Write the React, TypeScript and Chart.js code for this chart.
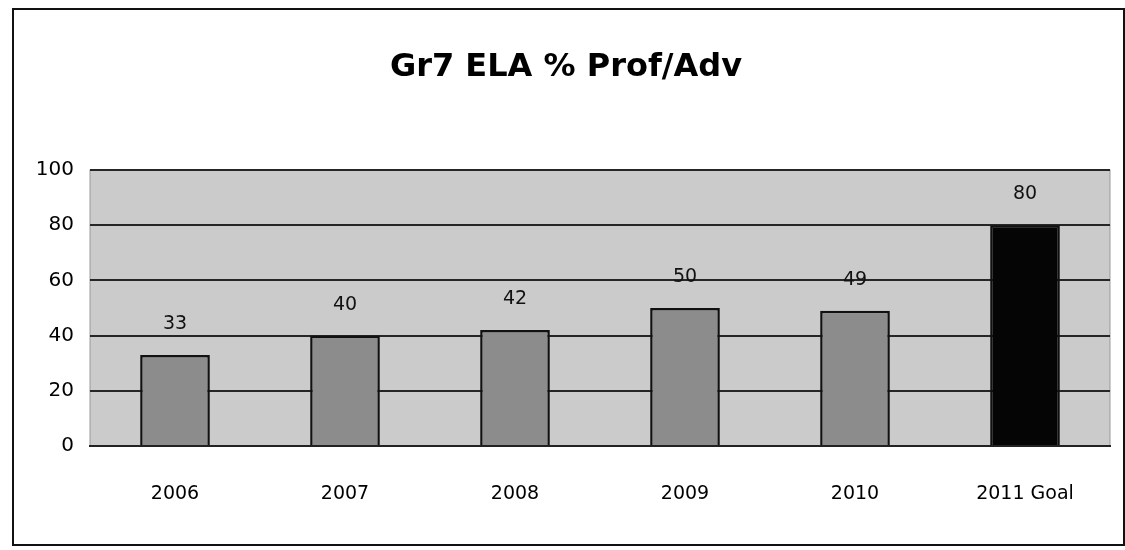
import React, { useEffect, useRef } from "react";
import { Chart, registerables } from "chart.js";

Chart.register(...registerables);

const categories = ["2006", "2007", "2008", "2009", "2010", "2011 Goal"];
const values = [33, 40, 42, 50, 49, 80];
const barColors = ["#8c8c8c", "#8c8c8c", "#8c8c8c", "#8c8c8c", "#8c8c8c", "#050505"];
const yTicks = [0, 20, 40, 60, 80, 100];
const titleText = "Gr7 ELA % Prof/Adv";

const FONT = "'DejaVu Sans', 'Noto Sans', sans-serif";

const framePlugin = {
  id: "frame",
  beforeDraw(chart: any) {
    const { ctx, chartArea } = chart;
    ctx.save();
    ctx.fillStyle = "#ffffff";
    ctx.fillRect(0, 0, chart.width, chart.height);
    ctx.fillStyle = "#cbcbcb";
    ctx.fillRect(chartArea.left, chartArea.top, chartArea.right - chartArea.left, chartArea.bottom - chartArea.top);
    ctx.strokeStyle = "#999";
    ctx.lineWidth = 1;
    ctx.strokeRect(chartArea.left, chartArea.top, chartArea.right - chartArea.left, chartArea.bottom - chartArea.top);
    ctx.restore();
  },
  afterDraw(chart: any) {
    const { ctx } = chart;
    ctx.save();
    ctx.strokeStyle = "#111";
    ctx.lineWidth = 2;
    ctx.strokeRect(13, 9, 1111, 536);
    ctx.fillStyle = "#000";
    ctx.font = `bold 32px ${FONT}`;
    ctx.textAlign = "center";
    ctx.textBaseline = "middle";
    ctx.fillText(titleText, 566, 68);
    const meta = chart.getDatasetMeta(0);
    ctx.font = `19px ${FONT}`;
    ctx.fillStyle = "#111";
    meta.data.forEach((bar: any, i: number) => {
      ctx.fillText(String(values[i]), bar.x, bar.y - 31);
    });
    ctx.restore();
  },
};

export default function App() {
  const ref = useRef<HTMLCanvasElement>(null);
  useEffect(() => {
    if (!ref.current) return;
    const chart = new Chart(ref.current, {
      type: "bar",
      data: {
        labels: categories,
        datasets: [
          {
            data: values,
            backgroundColor: barColors,
            borderColor: "#111",
            borderWidth: 2.5,
            barPercentage: 0.41,
            categoryPercentage: 1,
          },
        ],
      },
      options: {
        responsive: false,
        animation: false,
        layout: { padding: { top: 170, right: 15, left: 0, bottom: 0 } },
        plugins: { legend: { display: false }, tooltip: { enabled: false }, title: { display: false } },
        scales: {
          x: {
            grid: { display: false, drawTicks: false },
            border: { display: true, color: "#222", width: 2 },
            ticks: { font: { family: FONT, size: 19 }, color: "#000", padding: 37 },
            afterFit(scale: any) {
              scale.height = 104;
            },
          },
          y: {
            min: 0,
            max: 100,
            afterBuildTicks(scale: any) {
              scale.ticks = yTicks.map((v) => ({ value: v }));
            },
            grid: { color: "#262626", lineWidth: 2, drawTicks: false },
            border: { display: false },
            ticks: { font: { family: FONT, size: 20 }, color: "#000", padding: 16 },
            afterFit(scale: any) {
              scale.width = 90;
            },
          },
        },
      },
      plugins: [framePlugin],
    });
    return () => chart.destroy();
  }, []);
  return (
    <div style={{ position: "absolute", left: 0, top: 0, width: 1125, height: 550 }}>
      <canvas ref={ref} width={1125} height={550} style={{ display: "block" }} />
    </div>
  );
}
